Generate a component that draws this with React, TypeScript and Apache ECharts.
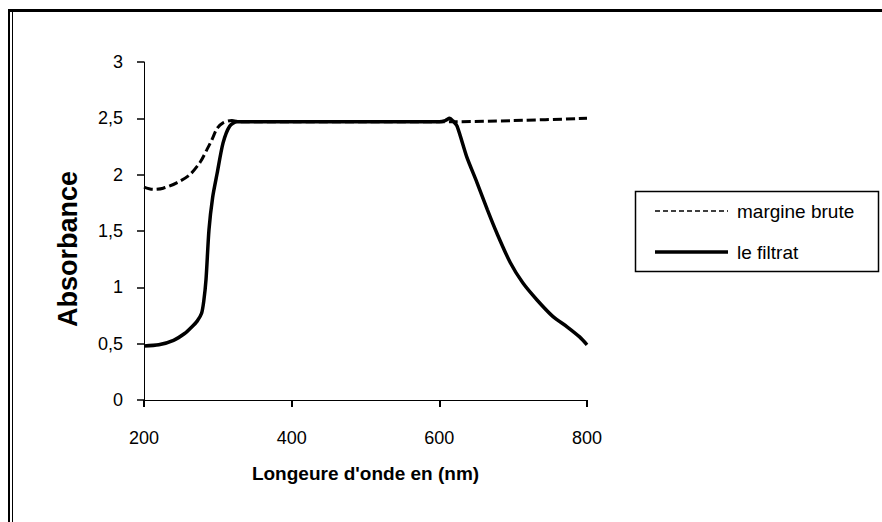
import React, { useEffect, useRef } from "react";
import * as echarts from "echarts";

const filtratWavelength = [200, 220, 240, 255, 265, 272, 278, 281, 284, 288, 293, 299, 307, 316, 326, 400, 500, 600, 608, 614, 618, 624, 637, 651, 665, 678, 696, 713, 732, 754, 773, 790, 800];
const filtratAbsorbance = [0.48, 0.49, 0.53, 0.59, 0.65, 0.7, 0.77, 0.88, 1.07, 1.51, 1.8, 2.01, 2.28, 2.43, 2.47, 2.47, 2.47, 2.47, 2.48, 2.5, 2.48, 2.43, 2.16, 1.93, 1.69, 1.48, 1.22, 1.04, 0.89, 0.74, 0.65, 0.56, 0.49];

const bruteWavelength = [200, 212, 226, 245, 262, 276, 285, 292, 299, 307, 319, 330, 400, 500, 600, 620, 700, 800];
const bruteAbsorbance = [1.89, 1.87, 1.88, 1.93, 2.0, 2.11, 2.22, 2.31, 2.41, 2.46, 2.48, 2.47, 2.47, 2.47, 2.47, 2.47, 2.48, 2.5];

const seriesNames = ["margine brute", "le filtrat"];
const xTitle = "Longeure d'onde en (nm)";
const yTitle = "Absorbance";

const FONT = "'Liberation Sans', Arial, sans-serif";

export default function App() {
  const ref = useRef<HTMLDivElement>(null);
  useEffect(() => {
    document.body.style.margin = "0";
    const chart = echarts.init(ref.current!, null, { renderer: "svg" });
    const zip = (xs: number[], ys: number[]) => xs.map((x, i) => [x, ys[i]]);
    chart.setOption({
      animation: false,
      backgroundColor: "#ffffff",
      grid: { left: 144, top: 62, width: 443, height: 338, containLabel: false },
      xAxis: {
        type: "value",
        min: 200,
        max: 800,
        interval: 200,
        name: xTitle,
        nameLocation: "middle",
        nameGap: 64,
        nameTextStyle: { fontFamily: FONT, fontWeight: "bold", fontSize: 19, color: "#000" },
        axisLine: { show: true, lineStyle: { color: "#000", width: 1 } },
        axisTick: { show: true, inside: false, length: 7, lineStyle: { color: "#000", width: 2 } },
        axisLabel: { fontFamily: FONT, fontSize: 18, color: "#000", margin: 29 },
        splitLine: { show: false },
      },
      yAxis: {
        type: "value",
        min: 0,
        max: 3,
        interval: 0.5,
        axisLine: { show: true, lineStyle: { color: "#000", width: 1 } },
        axisTick: { show: true, inside: false, length: 7, lineStyle: { color: "#000", width: 1.5 } },
        axisLabel: {
          fontFamily: FONT,
          fontSize: 18,
          color: "#000",
          margin: 21,
          formatter: (v: number) => String(v).replace(".", ","),
        },
        splitLine: { show: false },
      },
      series: [
        {
          name: seriesNames[0],
          type: "line",
          data: zip(bruteWavelength, bruteAbsorbance),
          smooth: 0.3,
          symbol: "none",
          lineStyle: { color: "#000", width: 3, type: [9, 4] },
          z: 2,
        },
        {
          name: seriesNames[1],
          type: "line",
          data: zip(filtratWavelength, filtratAbsorbance),
          smooth: 0.25,
          symbol: "none",
          lineStyle: { color: "#000", width: 3.5 },
          z: 3,
        },
      ],
      graphic: [
        { type: "rect", shape: { x: 8, y: 9, width: 874, height: 3 }, style: { fill: "#000" } },
        { type: "rect", shape: { x: 8, y: 9, width: 2, height: 513 }, style: { fill: "#000" } },
        { type: "rect", shape: { x: 12, y: 9, width: 1, height: 513 }, style: { fill: "#000" } },
        {
          type: "text",
          x: 68,
          y: 249,
          rotation: Math.PI / 2,
          style: {
            text: yTitle,
            fontFamily: FONT,
            fontWeight: "bold",
            fontSize: 27,
            fill: "#000",
            align: "center",
            verticalAlign: "middle",
          },
        },
        {
          type: "rect",
          shape: { x: 635.5, y: 191.5, width: 243, height: 80 },
          style: { fill: "#fff", stroke: "#000", lineWidth: 1.5 },
        },
        {
          type: "line",
          shape: { x1: 655, y1: 211, x2: 728, y2: 211 },
          style: { stroke: "#000", lineWidth: 1.3, lineDash: [5, 3] },
        },
        {
          type: "line",
          shape: { x1: 655, y1: 252, x2: 728, y2: 252 },
          style: { stroke: "#000", lineWidth: 3.5 },
        },
        {
          type: "text",
          x: 737,
          y: 211,
          style: { text: seriesNames[0], fontFamily: FONT, fontSize: 19, fill: "#000", verticalAlign: "middle" },
        },
        {
          type: "text",
          x: 737,
          y: 252,
          style: { text: seriesNames[1], fontFamily: FONT, fontSize: 19, fill: "#000", verticalAlign: "middle" },
        },
      ],
    });
    return () => chart.dispose();
  }, []);
  return <div ref={ref} style={{ width: 882, height: 522 }} />;
}
